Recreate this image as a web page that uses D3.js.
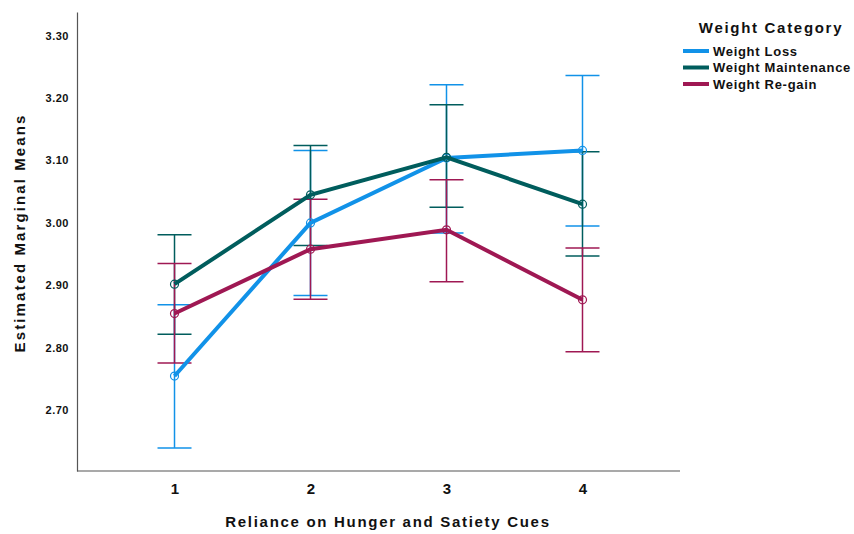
<!DOCTYPE html>
<html>
<head>
<meta charset="utf-8">
<script src="https://cdn.jsdelivr.net/npm/d3@7"></script>
<style>
  body { margin: 0; background: #fff; }
  text { font-family: "Liberation Sans", Arial, sans-serif; font-weight: bold; fill: #111; }
</style>
</head>
<body>
<svg class="chart"></svg>
<script>
// Datos
var categories = ["1", "2", "3", "4"];
var seriesNames = ["Weight Loss", "Weight Maintenance", "Weight Re-gain"];
var colors = ["#1192e8", "#005d5d", "#9f1853"];
var means = [
  [2.755, 3.000, 3.104, 3.116],
  [2.902, 3.045, 3.105, 3.030],
  [2.855, 2.958, 2.989, 2.877]
];
var upper = [
  [2.869, 3.116, 3.221, 3.236],
  [2.981, 3.124, 3.189, 3.114],
  [2.935, 3.038, 3.069, 2.960]
];
var lower = [
  [2.640, 2.884, 2.984, 2.995],
  [2.822, 2.964, 3.025, 2.947],
  [2.776, 2.878, 2.906, 2.794]
];
var yTicks = [2.7, 2.8, 2.9, 3.0, 3.1, 3.2, 3.3];

var W = 854, H = 534;
var plotLeft = 77, plotRight = 680, plotTop = 12, plotBottom = 471;

var svg = d3.select(".chart").attr("width", W).attr("height", H);

var x = d3.scalePoint().domain(categories).range([plotLeft, plotRight]).padding(0.717);
var y = d3.scaleLinear().domain([2.603, 3.3376]).range([plotBottom, plotTop]);

// Ejes
svg.append("g")
    .attr("transform", "translate(" + plotLeft + ",0)")
    .call(d3.axisLeft(y).tickValues(yTicks).tickFormat(d3.format(".2f")).tickSize(0).tickPadding(8))
    .call(function(g) {
      g.select(".domain").attr("stroke", "#555").attr("stroke-width", 1.2);
      g.selectAll("text").style("font-size", "11px").style("letter-spacing", "0.5px");
    });

svg.append("g")
    .attr("transform", "translate(0," + plotBottom + ")")
    .call(d3.axisBottom(x).tickSize(0).tickPadding(12))
    .call(function(g) {
      g.select(".domain").attr("stroke", "#555").attr("stroke-width", 1.2)
        .attr("d", "M" + plotLeft + ",0H" + plotRight);
      g.selectAll("text").style("font-size", "15px");
    });

// Títulos de ejes
svg.append("text")
    .attr("transform", "translate(25,233) rotate(-90)")
    .attr("text-anchor", "middle")
    .style("font-size", "15px")
    .style("letter-spacing", "2.1px")
    .text("Estimated Marginal Means");

svg.append("text")
    .attr("x", 388).attr("y", 527)
    .attr("text-anchor", "middle")
    .style("font-size", "15px")
    .style("letter-spacing", "1.7px")
    .text("Reliance on Hunger and Satiety Cues");

// Barras de error
seriesNames.forEach(function(name, s) {
  var g = svg.append("g");
  categories.forEach(function(c, i) {
    var cx = x(c);
    g.append("line").attr("x1", cx).attr("x2", cx)
      .attr("y1", y(lower[s][i])).attr("y2", y(upper[s][i]))
      .attr("stroke", colors[s]).attr("stroke-width", 1.5);
    [lower[s][i], upper[s][i]].forEach(function(v) {
      g.append("line").attr("x1", cx - 17).attr("x2", cx + 17)
        .attr("y1", y(v)).attr("y2", y(v))
        .attr("stroke", colors[s]).attr("stroke-width", 1.5);
    });
  });
});

// Líneas y puntos
var line = d3.line()
    .x(function(d, i) { return x(categories[i]); })
    .y(function(d) { return y(d); });

seriesNames.forEach(function(name, s) {
  svg.append("path")
    .datum(means[s])
    .attr("d", line)
    .attr("fill", "none")
    .attr("stroke", colors[s])
    .attr("stroke-width", 4);
  svg.selectAll(".pt" + s)
    .data(means[s])
    .enter().append("circle")
    .attr("cx", function(d, i) { return x(categories[i]); })
    .attr("cy", function(d) { return y(d); })
    .attr("r", 4)
    .attr("fill", "none")
    .attr("stroke", colors[s])
    .attr("stroke-width", 1.2);
});

// Leyenda
svg.append("text")
    .attr("x", 771).attr("y", 33)
    .attr("text-anchor", "middle")
    .style("font-size", "15px")
    .style("letter-spacing", "1.7px")
    .text("Weight Category");

var leg = svg.append("g");
seriesNames.forEach(function(name, s) {
  var ly = 51 + s * 16.5;
  leg.append("line")
    .attr("x1", 683).attr("x2", 709)
    .attr("y1", ly).attr("y2", ly)
    .attr("stroke", colors[s]).attr("stroke-width", 4);
  leg.append("text")
    .attr("x", 713).attr("y", ly + 4.5)
    .style("font-size", "13px")
    .style("letter-spacing", "0.7px")
    .text(name);
});
</script>
</body>
</html>
